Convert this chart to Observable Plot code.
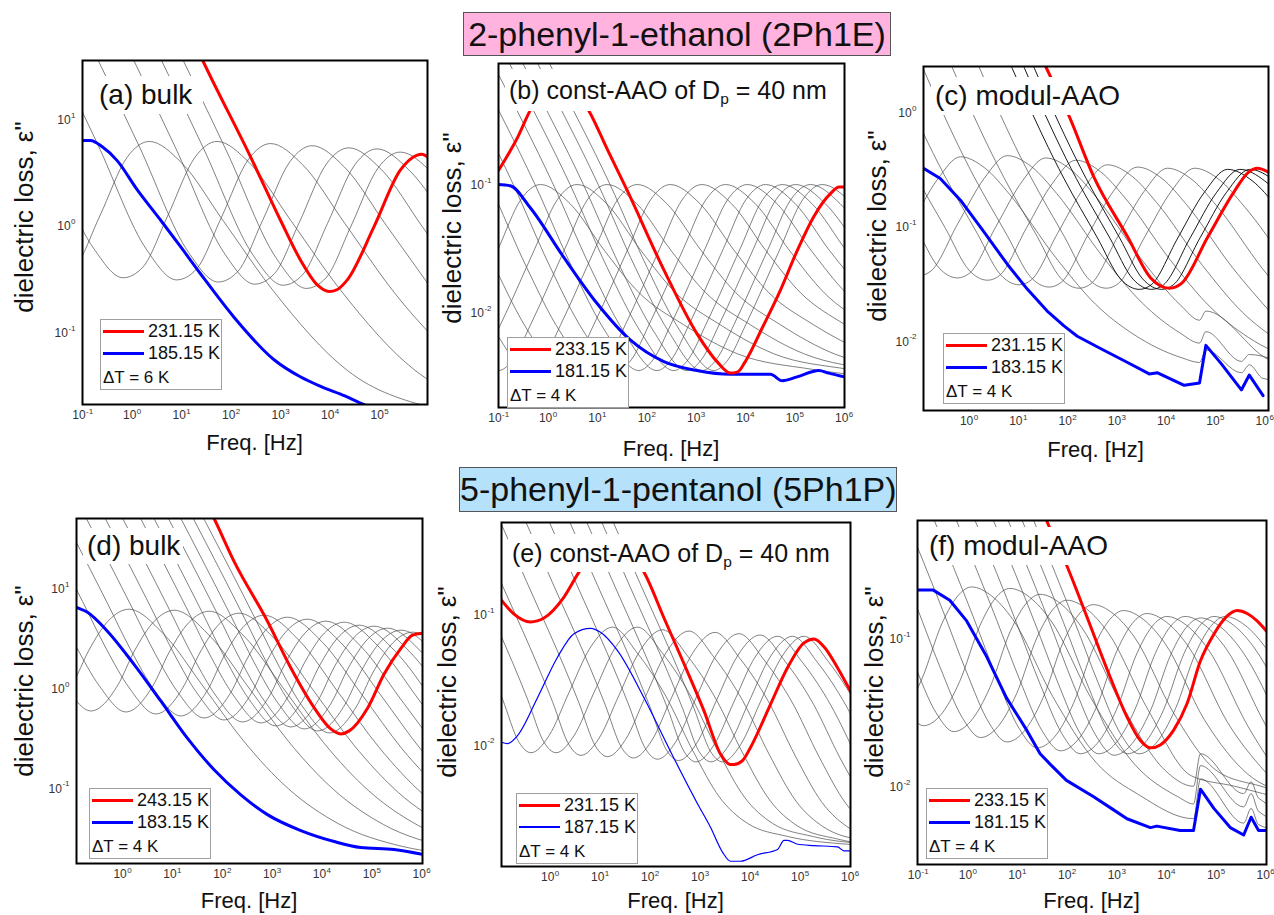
<!DOCTYPE html>
<html><head><meta charset="utf-8">
<script src="https://cdn.jsdelivr.net/npm/d3@7"></script>
<script src="https://cdn.jsdelivr.net/npm/@observablehq/plot@0.6"></script>
<style>
body{margin:0;background:#fff;font-family:"Liberation Sans",Arial,sans-serif;}
#wrap{position:relative;width:1274px;height:915px;overflow:hidden;background:#fff;}
.hdr{position:absolute;border:1px solid #555;font-size:34px;text-align:center;color:#111;box-sizing:border-box;white-space:nowrap;}
.ttl{position:absolute;background:#fff;white-space:nowrap;color:#111;box-sizing:border-box;}
.ttl sub{font-size:0.62em;vertical-align:-0.35em;line-height:0;}
.ylab{position:absolute;font-size:26px;white-space:nowrap;transform:translate(-50%,-50%) rotate(-90deg);line-height:1;color:#111;}
.xlab{position:absolute;font-size:22px;white-space:nowrap;transform:translate(-50%,-50%);line-height:1;color:#111;}
.leg{position:absolute;width:122px;height:71px;border:1px solid #a0a0a0;background:#fff;box-sizing:border-box;}
.leg .ln{position:absolute;left:2px;width:41px;}
.leg .tx{position:absolute;left:47px;font-size:18px;line-height:20px;white-space:nowrap;color:#111;}
.leg .dt{position:absolute;left:2px;font-size:17px;line-height:20px;white-space:nowrap;color:#111;}
</style></head>
<body><div id="wrap"></div>
<script>
// All curve values are [log10(f / Hz), log10(eps'')].

// ---------- (a) 2Ph1E bulk ----------
const redA = [[1.2,1.78],[1.43,1.55],[2.39,0.65],[3.0,0.05],[3.40,-0.32],[3.75,-0.56],[3.98,-0.62],[4.15,-0.60],[4.35,-0.51],[4.89,-0.01],[5.42,0.52],[5.75,0.66],[5.86,0.67],[5.98,0.64]];
const blueA = [[-1.0,0.80],[-0.84,0.80],[-0.6,0.74],[-0.30,0.61],[0.1,0.34],[0.58,0.05],[1.0,-0.21],[1.38,-0.45],[2.06,-0.86],[2.87,-1.26],[3.4,-1.42],[3.81,-1.51],[4.3,-1.60],[4.68,-1.68],[5.0,-1.73]];
const grayA = [
 [[-2.15,-0.21],[-1.55,-0.49],[-1.15,-0.39],[-0.65,0.09],[-0.10,0.64],[0.35,0.79],[1.00,0.59],[1.85,0.04],[2.85,-0.61],[4.35,-1.36],[6.05,-1.71]],
 [[-1.78,0.79],[-0.78,-0.21],[-0.18,-0.49],[0.22,-0.39],[0.72,0.09],[1.27,0.64],[1.72,0.79],[2.37,0.59],[3.22,0.04],[4.22,-0.61],[5.72,-1.36],[7.42,-1.71]],
 [[-2.2,2.22],[-0.7,0.77],[0.3,-0.23],[0.9,-0.51],[1.3,-0.41],[1.8,0.07],[2.35,0.62],[2.8,0.77],[3.45,0.57],[4.3,0.02],[5.3,-0.63],[6.8,-1.38]],
 [[-1.36,2.20],[0.14,0.75],[1.14,-0.25],[1.74,-0.53],[2.14,-0.43],[2.64,0.05],[3.19,0.60],[3.64,0.75],[4.29,0.55],[5.14,0.00],[6.14,-0.65]],
 [[-0.62,2.18],[0.88,0.73],[1.88,-0.27],[2.48,-0.55],[2.88,-0.45],[3.38,0.03],[3.93,0.58],[4.38,0.73],[5.03,0.53],[5.88,-0.02],[6.88,-0.67]],
 [[-0.05,2.17],[1.45,0.72],[2.45,-0.28],[3.05,-0.56],[3.45,-0.46],[3.95,0.02],[4.50,0.57],[4.95,0.72],[5.60,0.52],[6.45,-0.03]],
 [[0.42,2.14],[1.92,0.69],[2.92,-0.31],[3.52,-0.59],[3.92,-0.49],[4.42,-0.01],[4.97,0.54],[5.42,0.69],[6.07,0.49]]
];
const xTicksA = [-1,0,1,2,3,4,5];
const yTicksA = [1,0,-1];
const legA = ["231.15 K","185.15 K","\u0394T = 6 K"];

// ---------- (b) 2Ph1E const-AAO ----------
const redB = [[-1.0,-0.89],[-0.6,-0.62],[-0.36,-0.42],[-0.1,-0.27],[0.25,-0.2],[0.55,-0.26],[0.83,-0.42],[1.2,-0.72],[1.60,-1.04],[2.35,-1.67],[3.02,-2.17],[3.45,-2.40],[3.70,-2.48],[3.85,-2.47],[4.0,-2.39],[4.35,-2.12],[4.71,-1.83],[5.05,-1.52],[5.39,-1.25],[5.73,-1.07],[5.90,-1.02],[6.01,-1.02]];
const blueB = [[-1.0,-1.0],[-0.76,-1.01],[-0.36,-1.18],[0.32,-1.57],[0.99,-1.93],[1.67,-2.22],[2.35,-2.39],[3.02,-2.46],[3.70,-2.49],[4.51,-2.49],[4.75,-2.54],[5.05,-2.51],[5.49,-2.46],[5.69,-2.48],[6.01,-2.51]];
const grayB = [
 [[-1.70,-2.10],[-1.0,-1.50],[-0.55,-1.12],[-0.15,-1.0],[0.45,-1.15],[1.15,-1.52],[1.85,-1.85],[2.75,-2.10],[3.85,-2.33],[5.35,-2.45],[6.85,-2.52]],
 [[-1.61,-2.46],[-1.31,-2.37],[-0.96,-2.10],[-0.26,-1.50],[0.19,-1.12],[0.59,-1.0],[1.19,-1.15],[1.89,-1.52],[2.59,-1.85],[3.49,-2.10],[4.59,-2.33],[6.09,-2.45],[7.59,-2.52]],
 [[-1.68,-2.15],[-1.0,-2.46],[-0.70,-2.37],[-0.35,-2.10],[0.35,-1.50],[0.80,-1.12],[1.20,-1.0],[1.80,-1.15],[2.50,-1.52],[3.20,-1.85],[4.10,-2.10],[5.20,-2.33],[6.70,-2.45]],
 [[-1.74,-1.65],[-1.07,-2.15],[-0.39,-2.46],[-0.09,-2.37],[0.26,-2.10],[0.96,-1.50],[1.41,-1.12],[1.81,-1.0],[2.41,-1.15],[3.11,-1.52],[3.81,-1.85],[4.71,-2.10],[5.81,-2.33],[7.31,-2.45]],
 [[-1.82,-1.0],[-1.07,-1.65],[-0.40,-2.15],[0.28,-2.46],[0.58,-2.37],[0.93,-2.10],[1.63,-1.50],[2.08,-1.12],[2.48,-1.0],[3.08,-1.15],[3.78,-1.52],[4.48,-1.85],[5.38,-2.10],[6.48,-2.33]],
 [[-2.38,-0.07],[-1.18,-1.0],[-0.43,-1.65],[0.24,-2.15],[0.92,-2.46],[1.22,-2.37],[1.57,-2.10],[2.27,-1.50],[2.72,-1.12],[3.12,-1.0],[3.72,-1.15],[4.42,-1.52],[5.12,-1.85],[6.02,-2.10],[7.12,-2.33]],
 [[-1.90,-0.07],[-0.70,-1.0],[0.05,-1.65],[0.72,-2.15],[1.40,-2.46],[1.70,-2.37],[2.05,-2.10],[2.75,-1.50],[3.20,-1.12],[3.60,-1.0],[4.20,-1.15],[4.90,-1.52],[5.60,-1.85],[6.50,-2.10]],
 [[-1.46,-0.07],[-0.26,-1.0],[0.49,-1.65],[1.16,-2.15],[1.84,-2.46],[2.14,-2.37],[2.49,-2.10],[3.19,-1.50],[3.64,-1.12],[4.04,-1.0],[4.64,-1.15],[5.34,-1.52],[6.04,-1.85],[6.94,-2.10]],
 [[-1.09,-0.07],[0.11,-1.0],[0.86,-1.65],[1.53,-2.15],[2.21,-2.46],[2.51,-2.37],[2.86,-2.10],[3.56,-1.50],[4.01,-1.12],[4.41,-1.0],[5.01,-1.15],[5.71,-1.52],[6.41,-1.85]],
 [[-1.75,0.7],[-0.75,-0.07],[0.45,-1.0],[1.20,-1.65],[1.87,-2.15],[2.55,-2.46],[2.85,-2.37],[3.20,-2.10],[3.90,-1.50],[4.35,-1.12],[4.75,-1.0],[5.35,-1.15],[6.05,-1.52],[6.75,-1.85]],
 [[-1.48,0.7],[-0.48,-0.07],[0.72,-1.0],[1.47,-1.65],[2.14,-2.15],[2.82,-2.46],[3.12,-2.37],[3.47,-2.10],[4.17,-1.50],[4.62,-1.12],[5.02,-1.0],[5.62,-1.15],[6.32,-1.52]],
 [[-1.18,0.7],[-0.18,-0.07],[1.02,-1.0],[1.77,-1.65],[2.44,-2.15],[3.12,-2.46],[3.42,-2.37],[3.77,-2.10],[4.47,-1.50],[4.92,-1.12],[5.32,-1.0],[5.92,-1.15],[6.62,-1.52]],
 [[-0.94,0.7],[0.06,-0.07],[1.26,-1.0],[2.01,-1.65],[2.68,-2.15],[3.36,-2.46],[3.66,-2.37],[4.01,-2.10],[4.71,-1.50],[5.16,-1.12],[5.56,-1.0],[6.16,-1.15],[6.86,-1.52]]
];
const xTicksB = [-1,0,1,2,3,4,5,6];
const yTicksB = [-1,-2];
const legB = ["233.15 K","181.15 K","\u0394T = 4 K"];

// ---------- (c) 2Ph1E modul-AAO ----------
const redC = [[1.40,0.55],[1.56,0.40],[2.03,-0.03],[2.54,-0.57],[3.22,-1.09],[3.69,-1.45],[4.07,-1.54],[4.31,-1.50],[4.85,-1.09],[5.39,-0.69],[5.66,-0.53],[5.86,-0.49],[6.1,-0.53]];
const blueC = [[-1.0,-0.47],[-0.92,-0.49],[-0.58,-0.58],[-0.17,-0.77],[0.31,-1.05],[0.78,-1.33],[1.19,-1.55],[1.59,-1.74],[1.93,-1.87],[2.20,-1.96],[2.68,-2.07],[3.22,-2.19],[3.66,-2.29],[3.83,-2.28],[4.37,-2.39],[4.68,-2.37],[4.81,-2.04],[5.12,-2.20],[5.53,-2.43],[5.69,-2.30],[5.97,-2.48]];
const grayC = [
 [[-1.72,-1.40],[-1.18,-0.99],[-0.64,-0.59],[-0.17,-0.39],[0.33,-0.49],[0.83,-0.72],[1.76,-1.27],[2.57,-1.68],[3.33,-1.94],[4.33,-2.15],[4.68,-2.19],[4.81,-2.08],[5.53,-2.28],[5.69,-2.21],[5.97,-2.33],[7.33,-2.39]],
 [[-1.39,-1.34],[-1.01,-1.43],[-0.77,-1.39],[-0.23,-0.98],[0.31,-0.58],[0.78,-0.38],[1.28,-0.48],[1.78,-0.71],[2.71,-1.26],[3.52,-1.67],[4.28,-1.93],[4.68,-2.02],[4.81,-1.92],[5.53,-2.18],[5.69,-2.12],[6.78,-2.30]],
 [[-1.76,-0.48],[-1.08,-1.00],[-0.61,-1.36],[-0.23,-1.45],[0.01,-1.41],[0.55,-1.00],[1.09,-0.60],[1.56,-0.40],[2.06,-0.50],[2.56,-0.73],[3.49,-1.28],[4.30,-1.69],[4.68,-1.82],[4.81,-1.74],[6.06,-2.16],[7.56,-2.32]],
 [[-2.83,1.10],[-1.15,-0.50],[-0.47,-1.02],[0.00,-1.38],[0.38,-1.47],[0.62,-1.43],[1.16,-1.02],[1.70,-0.62],[2.17,-0.42],[2.67,-0.52],[3.17,-0.75],[4.10,-1.30],[4.91,-1.71],[5.67,-1.97],[6.67,-2.18]],
 [[-2.19,1.06],[-0.51,-0.54],[0.17,-1.06],[0.64,-1.42],[1.02,-1.51],[1.26,-1.47],[1.80,-1.06],[2.34,-0.66],[2.81,-0.46],[3.31,-0.56],[3.81,-0.79],[4.74,-1.34],[5.55,-1.75],[6.31,-2.01]],
 [[-1.58,1.04],[0.10,-0.56],[0.78,-1.08],[1.25,-1.44],[1.63,-1.53],[1.87,-1.49],[2.41,-1.08],[2.95,-0.68],[3.42,-0.48],[3.92,-0.58],[4.42,-0.81],[5.35,-1.36],[6.16,-1.77]],
 [[-0.97,1.03],[0.71,-0.57],[1.39,-1.09],[1.86,-1.45],[2.24,-1.54],[2.48,-1.50],[3.02,-1.09],[3.56,-0.69],[4.03,-0.49],[4.53,-0.59],[5.03,-0.82],[5.96,-1.37],[6.77,-1.78]],
 [[-0.42,1.03],[1.26,-0.57],[1.94,-1.09],[2.41,-1.45],[2.79,-1.54],[3.03,-1.50],[3.57,-1.09],[4.11,-0.69],[4.58,-0.49],[5.08,-0.59],[5.58,-0.82],[6.51,-1.37]]
];
const darkC = [
 [[0.25,1.02],[1.93,-0.58],[2.61,-1.10],[3.08,-1.46],[3.46,-1.55],[3.70,-1.51],[4.24,-1.10],[4.78,-0.70],[5.25,-0.50],[5.75,-0.60],[6.25,-0.83]],
 [[0.50,1.02],[2.18,-0.58],[2.86,-1.10],[3.33,-1.46],[3.71,-1.55],[3.95,-1.51],[4.49,-1.10],[5.03,-0.70],[5.50,-0.50],[6.00,-0.60],[6.50,-0.83]],
 [[0.70,1.02],[2.38,-0.58],[3.06,-1.10],[3.53,-1.46],[3.91,-1.55],[4.15,-1.51],[4.69,-1.10],[5.23,-0.70],[5.70,-0.50],[6.20,-0.60],[6.70,-0.83]]
];
const xTicksC = [0,1,2,3,4,5,6];
const yTicksC = [0,-1,-2];
const legC = ["231.15 K","183.15 K","\u0394T = 4 K"];

// ---------- (d) 5Ph1P bulk ----------
const redD = [[1.7,1.84],[1.84,1.70],[2.24,1.27],[2.91,0.67],[3.38,0.20],[3.85,-0.20],[4.18,-0.41],[4.38,-0.46],[4.55,-0.43],[4.92,-0.20],[5.25,0.14],[5.59,0.40],[5.82,0.53],[6.03,0.55]];
const blueD = [[-1.0,0.83],[-0.92,0.81],[-0.70,0.76],[-0.30,0.57],[0.23,0.24],[0.77,-0.13],[1.30,-0.50],[1.84,-0.82],[2.37,-1.07],[2.91,-1.27],[3.58,-1.43],[4.25,-1.54],[4.78,-1.60],[5.45,-1.62],[6.03,-1.67]];
const grayD = [
 [[-1.54,-0.22],[-1.00,0.04],[-0.67,0.38],[-0.27,0.68],[0.13,0.79],[0.83,0.54],[1.63,0.01],[2.43,-0.53],[3.33,-1.01],[4.33,-1.36],[5.63,-1.59],[7.13,-1.68]],
 [[-2.10,0.90],[-1.63,0.43],[-1.16,0.03],[-0.63,-0.23],[-0.09,0.03],[0.24,0.37],[0.64,0.67],[1.04,0.78],[1.74,0.53],[2.54,0.00],[3.34,-0.54],[4.24,-1.02],[5.24,-1.37],[6.54,-1.60]],
 [[-3.46,2.87],[-1.40,0.89],[-0.93,0.42],[-0.46,0.02],[0.07,-0.24],[0.61,0.02],[0.94,0.36],[1.34,0.66],[1.74,0.77],[2.44,0.52],[3.24,-0.01],[4.04,-0.55],[4.94,-1.03],[5.94,-1.38],[7.24,-1.61]],
 [[-2.86,2.85],[-0.80,0.87],[-0.33,0.40],[0.14,0.00],[0.67,-0.26],[1.21,0.00],[1.54,0.34],[1.94,0.64],[2.34,0.75],[3.04,0.50],[3.84,-0.03],[4.64,-0.57],[5.54,-1.05],[6.54,-1.40]],
 [[-2.36,2.83],[-0.30,0.85],[0.17,0.38],[0.64,-0.02],[1.17,-0.28],[1.71,-0.02],[2.04,0.32],[2.44,0.62],[2.84,0.73],[3.54,0.48],[4.34,-0.05],[5.14,-0.59],[6.04,-1.07],[7.04,-1.42]],
 [[-1.89,2.81],[0.17,0.83],[0.64,0.36],[1.11,-0.04],[1.64,-0.30],[2.18,-0.04],[2.51,0.30],[2.91,0.60],[3.31,0.71],[4.01,0.46],[4.81,-0.07],[5.61,-0.61],[6.51,-1.09]],
 [[-1.49,2.79],[0.57,0.81],[1.04,0.34],[1.51,-0.06],[2.04,-0.32],[2.58,-0.06],[2.91,0.28],[3.31,0.58],[3.71,0.69],[4.41,0.44],[5.21,-0.09],[6.01,-0.63],[6.91,-1.11]],
 [[-1.12,2.77],[0.94,0.79],[1.41,0.32],[1.88,-0.08],[2.41,-0.34],[2.95,-0.08],[3.28,0.26],[3.68,0.56],[4.08,0.67],[4.78,0.42],[5.58,-0.11],[6.38,-0.65]],
 [[-0.75,2.76],[1.31,0.78],[1.78,0.31],[2.25,-0.09],[2.78,-0.35],[3.32,-0.09],[3.65,0.25],[4.05,0.55],[4.45,0.66],[5.15,0.41],[5.95,-0.12],[6.75,-0.66]],
 [[-0.45,2.73],[1.61,0.75],[2.08,0.28],[2.55,-0.12],[3.08,-0.38],[3.62,-0.12],[3.95,0.22],[4.35,0.52],[4.75,0.63],[5.45,0.38],[6.25,-0.15]],
 [[-0.15,2.72],[1.91,0.74],[2.38,0.27],[2.85,-0.13],[3.38,-0.39],[3.92,-0.13],[4.25,0.21],[4.65,0.51],[5.05,0.62],[5.75,0.37],[6.55,-0.16]],
 [[0.12,2.70],[2.18,0.72],[2.65,0.25],[3.12,-0.15],[3.65,-0.41],[4.19,-0.15],[4.52,0.19],[4.92,0.49],[5.32,0.60],[6.02,0.35],[6.82,-0.18]],
 [[0.39,2.68],[2.45,0.70],[2.92,0.23],[3.39,-0.17],[3.92,-0.43],[4.46,-0.17],[4.79,0.17],[5.19,0.47],[5.59,0.58],[6.29,0.33]],
 [[0.62,2.66],[2.68,0.68],[3.15,0.21],[3.62,-0.19],[4.15,-0.45],[4.69,-0.19],[5.02,0.15],[5.42,0.45],[5.82,0.56],[6.52,0.31]]
];
const xTicksD = [0,1,2,3,4,5,6];
const yTicksD = [1,0,-1];
const legD = ["243.15 K","183.15 K","\u0394T = 4 K"];

// ---------- (e) 5Ph1P const-AAO ----------
const redE = [[-1.0,-0.88],[-0.72,-1.0],[-0.39,-1.06],[-0.12,-1.03],[0.28,-0.87],[0.58,-0.68],[0.9,-0.52],[1.25,-0.46],[1.6,-0.53],[1.88,-0.68],[2.28,-1.03],[2.68,-1.38],[3.08,-1.74],[3.41,-2.07],[3.61,-2.15],[3.68,-2.15],[3.85,-2.12],[4.01,-2.02],[4.41,-1.69],[4.75,-1.41],[5.08,-1.22],[5.28,-1.19],[5.48,-1.25],[5.75,-1.41],[6.01,-1.59]];
const blueE = [[-0.97,-1.98],[-0.85,-1.99],[-0.65,-1.93],[-0.25,-1.64],[0.15,-1.33],[0.48,-1.15],[0.81,-1.11],[1.01,-1.14],[1.35,-1.28],[1.88,-1.64],[2.41,-2.05],[2.95,-2.45],[3.21,-2.63],[3.45,-2.82],[3.61,-2.89],[3.81,-2.89],[4.15,-2.84],[4.55,-2.80],[4.68,-2.73],[4.75,-2.73],[4.95,-2.76],[5.28,-2.77],[5.75,-2.78],[5.88,-2.81],[6.01,-2.81]];
const grayE = [
 [[-2.15,-0.59],[-0.95,-1.65],[-0.62,-1.98],[-0.38,-2.06],[-0.02,-1.93],[0.38,-1.60],[0.80,-1.26],[1.25,-1.10],[1.75,-1.30],[2.32,-1.63],[2.85,-2.04],[3.39,-2.40],[3.95,-2.60],[4.75,-2.70],[5.95,-2.76],[7.0,-2.78]],
 [[-2.75,0.37],[-1.65,-0.59],[-0.45,-1.65],[-0.12,-1.98],[0.12,-2.06],[0.48,-1.93],[0.88,-1.60],[1.30,-1.26],[1.75,-1.10],[2.25,-1.30],[2.82,-1.63],[3.35,-2.04],[3.89,-2.40],[4.45,-2.60],[5.25,-2.70],[6.45,-2.76]],
 [[-2.25,0.35],[-1.15,-0.61],[0.05,-1.67],[0.38,-2.00],[0.62,-2.08],[0.98,-1.95],[1.38,-1.62],[1.80,-1.28],[2.25,-1.12],[2.75,-1.32],[3.32,-1.65],[3.85,-2.06],[4.39,-2.42],[4.95,-2.62],[5.75,-2.72],[6.95,-2.78]],
 [[-1.72,0.34],[-0.62,-0.62],[0.58,-1.68],[0.91,-2.01],[1.15,-2.09],[1.51,-1.96],[1.91,-1.63],[2.33,-1.29],[2.78,-1.13],[3.28,-1.33],[3.85,-1.66],[4.38,-2.07],[4.92,-2.43],[5.48,-2.63],[6.28,-2.73]],
 [[-1.20,0.33],[-0.10,-0.63],[1.10,-1.69],[1.43,-2.02],[1.67,-2.10],[2.03,-1.97],[2.43,-1.64],[2.85,-1.30],[3.30,-1.14],[3.80,-1.34],[4.37,-1.67],[4.90,-2.08],[5.44,-2.44],[6.00,-2.64],[6.80,-2.74]],
 [[-0.72,0.32],[0.38,-0.64],[1.58,-1.70],[1.91,-2.03],[2.15,-2.11],[2.51,-1.98],[2.91,-1.65],[3.33,-1.31],[3.78,-1.15],[4.28,-1.35],[4.85,-1.68],[5.38,-2.09],[5.92,-2.45],[6.48,-2.65]],
 [[-0.30,0.31],[0.80,-0.65],[2.00,-1.71],[2.33,-2.04],[2.57,-2.12],[2.93,-1.99],[3.33,-1.66],[3.75,-1.32],[4.20,-1.16],[4.70,-1.36],[5.27,-1.69],[5.80,-2.10],[6.34,-2.46]],
 [[0.05,0.30],[1.15,-0.66],[2.35,-1.72],[2.68,-2.05],[2.92,-2.13],[3.28,-2.00],[3.68,-1.67],[4.10,-1.33],[4.55,-1.17],[5.05,-1.37],[5.62,-1.70],[6.15,-2.11]],
 [[0.35,0.30],[1.45,-0.66],[2.65,-1.72],[2.98,-2.05],[3.22,-2.13],[3.58,-2.00],[3.98,-1.67],[4.40,-1.33],[4.85,-1.17],[5.35,-1.37],[5.92,-1.70],[6.45,-2.11]],
 [[0.58,0.30],[1.68,-0.66],[2.88,-1.72],[3.21,-2.05],[3.45,-2.13],[3.81,-2.00],[4.21,-1.67],[4.63,-1.33],[5.08,-1.17],[5.58,-1.37],[6.15,-1.70]]
];
const xTicksE = [0,1,2,3,4,5,6];
const yTicksE = [-1,-2];
const legE = ["231.15 K","187.15 K","\u0394T = 4 K"];

// ---------- (f) 5Ph1P modul-AAO ----------
const redF = [[1.45,-0.08],[1.59,-0.20],[1.99,-0.50],[2.40,-0.85],[2.87,-1.26],[3.21,-1.53],[3.48,-1.69],[3.69,-1.74],[3.88,-1.72],[4.15,-1.62],[4.42,-1.44],[4.69,-1.15],[4.96,-0.97],[5.22,-0.85],[5.43,-0.81],[5.63,-0.83],[5.83,-0.88],[6.02,-0.95]];
const blueF = [[-1.02,-0.67],[-0.70,-0.67],[-0.36,-0.74],[-0.02,-0.88],[0.38,-1.12],[0.78,-1.40],[1.19,-1.62],[1.46,-1.78],[1.66,-1.85],[1.99,-1.96],[2.53,-2.07],[2.94,-2.16],[3.21,-2.22],[3.68,-2.28],[3.81,-2.27],[4.28,-2.30],[4.55,-2.30],[4.69,-2.02],[4.96,-2.15],[5.29,-2.28],[5.56,-2.33],[5.71,-2.21],[5.86,-2.30],[6.02,-2.30]];
const grayF = [
 [[-1.66,-1.58],[-1.32,-1.51],[-0.93,-1.28],[-0.52,-0.90],[-0.17,-0.70],[0.08,-0.65],[0.48,-0.71],[0.91,-0.87],[1.71,-1.39],[2.59,-1.84],[3.46,-2.06],[4.55,-2.22],[4.69,-1.95],[5.56,-2.25],[5.71,-2.15],[5.86,-2.26],[6.58,-2.32]],
 [[-1.71,-1.11],[-1.25,-1.46],[-0.89,-1.59],[-0.55,-1.52],[-0.16,-1.29],[0.25,-0.91],[0.60,-0.71],[0.85,-0.66],[1.25,-0.72],[1.68,-0.88],[2.48,-1.40],[3.36,-1.85],[4.23,-2.07],[4.55,-2.12],[4.69,-1.86],[5.56,-2.14],[5.71,-2.05],[5.86,-2.17],[7.35,-2.36]],
 [[-1.57,-0.74],[-1.10,-1.15],[-0.64,-1.50],[-0.28,-1.63],[0.06,-1.56],[0.45,-1.33],[0.86,-0.95],[1.21,-0.75],[1.46,-0.70],[1.86,-0.76],[2.29,-0.92],[3.09,-1.44],[3.97,-1.89],[4.55,-2.0],[4.69,-1.78],[5.56,-2.05],[5.71,-1.97],[5.86,-2.08],[7.96,-2.35]],
 [[-2.6,0.50],[-1.03,-0.78],[-0.56,-1.19],[-0.10,-1.54],[0.26,-1.67],[0.60,-1.60],[0.99,-1.37],[1.40,-0.99],[1.75,-0.79],[2.0,-0.74],[2.4,-0.80],[2.83,-0.96],[3.63,-1.48],[4.51,-1.93],[5.38,-2.0],[6.5,-2.1]],
 [[-2.07,0.47],[-0.50,-0.81],[-0.03,-1.22],[0.43,-1.57],[0.79,-1.70],[1.13,-1.63],[1.52,-1.40],[1.93,-1.02],[2.28,-0.82],[2.53,-0.77],[2.93,-0.83],[3.36,-0.99],[4.16,-1.51],[5.04,-1.90],[5.91,-2.0],[7.03,-2.1]],
 [[-1.46,0.43],[0.11,-0.85],[0.58,-1.26],[1.04,-1.61],[1.40,-1.74],[1.74,-1.67],[2.13,-1.44],[2.54,-1.06],[2.89,-0.86],[3.14,-0.81],[3.54,-0.87],[3.97,-1.03],[4.77,-1.55],[5.65,-1.92],[6.52,-2.05]],
 [[-0.99,0.41],[0.58,-0.87],[1.05,-1.28],[1.51,-1.63],[1.87,-1.76],[2.21,-1.69],[2.60,-1.46],[3.01,-1.08],[3.36,-0.88],[3.61,-0.83],[4.01,-0.89],[4.44,-1.05],[5.24,-1.57],[6.12,-1.95]],
 [[-0.59,0.39],[0.98,-0.89],[1.45,-1.30],[1.91,-1.65],[2.27,-1.78],[2.61,-1.71],[3.00,-1.48],[3.41,-1.10],[3.76,-0.90],[4.01,-0.85],[4.41,-0.91],[4.84,-1.07],[5.64,-1.59],[6.52,-2.04]],
 [[-0.22,0.39],[1.35,-0.89],[1.82,-1.30],[2.28,-1.65],[2.64,-1.78],[2.98,-1.71],[3.37,-1.48],[3.78,-1.10],[4.13,-0.90],[4.38,-0.85],[4.78,-0.91],[5.21,-1.07],[6.01,-1.59],[6.89,-2.04]],
 [[0.09,0.38],[1.66,-0.90],[2.13,-1.31],[2.59,-1.66],[2.95,-1.79],[3.29,-1.72],[3.68,-1.49],[4.09,-1.11],[4.44,-0.91],[4.69,-0.86],[5.09,-0.92],[5.52,-1.08],[6.32,-1.60]],
 [[0.36,0.39],[1.93,-0.89],[2.40,-1.30],[2.86,-1.65],[3.22,-1.78],[3.56,-1.71],[3.95,-1.48],[4.36,-1.10],[4.71,-0.90],[4.96,-0.85],[5.36,-0.91],[5.79,-1.07],[6.59,-1.59]],
 [[0.59,0.39],[2.16,-0.89],[2.63,-1.30],[3.09,-1.65],[3.45,-1.78],[3.79,-1.71],[4.18,-1.48],[4.59,-1.10],[4.94,-0.90],[5.19,-0.85],[5.59,-0.91],[6.02,-1.07],[6.82,-1.59]]
];
const xTicksF = [-1,0,1,2,3,4,5,6];
const yTicksF = [-1,-2];
const legF = ["233.15 K","181.15 K","\u0394T = 4 K"];

// ---------- texts ----------
const headers = [
  {text:"2-phenyl-1-ethanol (2Ph1E)", box:[463,12,428,44], fill:"#ffb3de"},
  {text:"5-phenyl-1-pentanol (5Ph1P)", box:[459,467,438,45], fill:"#b5e2fa"}
];
const yLabel = "dielectric loss, \u03b5\"";
const xLabel = "Freq. [Hz]";

const panels = [
 {frame:[82,60,427,404], xdom:[-1,5.97], ydom:[-1.68,1.55], gray:grayA, dark:[], red:redA, blue:blueA, blueW:3, blueCurve:"monotone-x", xt:xTicksA, yt:yTicksA,
  title:["(a) bulk"], tbox:[95,76,108,38,28], leg:legA, legPos:[100,319], ylab:[24,217], xlabDy:39},
 {frame:[498,63,844,407], xdom:[-1,6.01], ydom:[-2.75,-0.05], gray:grayB, dark:[], red:redB, blue:blueB, blueW:3, blueCurve:"monotone-x", xt:xTicksB, yt:yTicksB,
  title:["(b) const-AAO of D","p"," = 40 nm"], tbox:[505,69,326,42,25], leg:legB, legPos:[507,337], ylab:[452,228], xlabDy:42},
 {frame:[923,66,1268,410], xdom:[-0.92,6.08], ydom:[-2.61,0.40], gray:grayC, dark:darkC, red:redC, blue:blueC, blueW:3, blueCurve:"linear", xt:xTicksC, yt:yTicksC,
  title:["(c) modul-AAO"], tbox:[931,77,190,38,28], leg:legC, legPos:[943,333], ylab:[877,226], xlabDy:40},
 {frame:[76,518,422,863], xdom:[-0.92,6.02], ydom:[-1.76,1.70], gray:grayD, dark:[], red:redD, blue:blueD, blueW:3, blueCurve:"monotone-x", xt:xTicksD, yt:yTicksD,
  title:["(d) bulk"], tbox:[83,528,100,36,28], leg:legD, legPos:[89,788], ylab:[24,681], xlabDy:38},
 {frame:[501,522,850,866], xdom:[-0.97,6.01], ydom:[-2.93,-0.30], gray:grayE, dark:[], red:redE, blue:blueE, blueW:1.2, blueCurve:"monotone-x", xt:xTicksE, yt:yTicksE,
  title:["(e) const-AAO of D","p"," = 40 nm"], tbox:[508,534,328,38,25], leg:legE, legPos:[516,793], ylab:[447,682], xlabDy:35},
 {frame:[917,520,1266,864], xdom:[-1.01,6.02], ydom:[-2.53,-0.20], gray:grayF, dark:[], red:redF, blue:blueF, blueW:3, blueCurve:"linear", xt:xTicksF, yt:yTicksF,
  title:["(f) modul-AAO"], tbox:[925,527,183,38,28], leg:legF, legPos:[926,788], ylab:[874,682], xlabDy:37}
];

// ---------- drawing ----------
const wrap = document.getElementById("wrap");
const P = v => 10 ** v;
const toRows = curves => curves.flatMap((c, i) => c.map(([x, y]) => ({x: P(x), y: P(y), k: i})));
const toPts = c => c.map(([x, y]) => ({x: P(x), y: P(y)}));
const FONT = '"Liberation Sans", Arial, Helvetica, sans-serif';
const expW = e => (e < 0 ? 2.7 : 0) + 4.45;
const TICKC = "#333";

function el(tag, cls, styles, text) {
  const d = document.createElement(tag);
  if (cls) d.className = cls;
  Object.assign(d.style, styles || {});
  if (text != null) d.textContent = text;
  return d;
}

for (const p of panels) {
  const [L, T, R, B] = p.frame;
  const mL = 62, mT = 20, mR = 6, mB = 44;
  const marks = [
    Plot.line(toRows(p.gray), {x: "x", y: "y", z: "k", stroke: "#4a4a4a", strokeWidth: 0.7, curve: "monotone-x", clip: true})
  ];
  if (p.dark.length) marks.push(Plot.line(toRows(p.dark), {x: "x", y: "y", z: "k", stroke: "#000", strokeWidth: 0.9, curve: "monotone-x", clip: true}));
  marks.push(Plot.line(toPts(p.blue), {x: "x", y: "y", stroke: "#0000ff", strokeWidth: p.blueW, strokeLinejoin: "round", curve: p.blueCurve, clip: true}));
  marks.push(Plot.line(toPts(p.red), {x: "x", y: "y", stroke: "#ff0000", strokeWidth: 3, strokeLinejoin: "round", curve: "monotone-x", clip: true}));
  marks.push(Plot.frame({stroke: "#000", strokeWidth: 2}));
  for (const e of p.xt) {
    const off = (13.3 - expW(e)) / 2;
    marks.push(Plot.text([P(e)], {x: d => d, frameAnchor: "bottom", text: () => "10", textAnchor: "end", dx: off, dy: 14, fontSize: 12, fill: TICKC}));
    marks.push(Plot.text([P(e)], {x: d => d, frameAnchor: "bottom", text: () => String(e), textAnchor: "start", dx: off + 0.4, dy: 9, fontSize: 8, fill: TICKC}));
  }
  for (const e of p.yt) {
    marks.push(Plot.text([P(e)], {y: d => d, frameAnchor: "left", text: () => "10", textAnchor: "end", dx: -7.4 - expW(e), dy: 1, fontSize: 12, fill: TICKC}));
    marks.push(Plot.text([P(e)], {y: d => d, frameAnchor: "left", text: () => String(e), textAnchor: "end", dx: -7, dy: -4, fontSize: 8, fill: TICKC}));
  }
  const svg = Plot.plot({
    width: R - L + mL + mR, height: B - T + mT + mB,
    marginLeft: mL, marginTop: mT, marginRight: mR, marginBottom: mB,
    x: {type: "log", domain: [P(p.xdom[0]), P(p.xdom[1])], axis: null},
    y: {type: "log", domain: [P(p.ydom[0]), P(p.ydom[1])], axis: null},
    style: {fontFamily: FONT, background: "transparent", overflow: "visible"},
    marks
  });
  svg.style.position = "absolute";
  svg.style.left = (L - mL) + "px";
  svg.style.top = (T - mT) + "px";
  wrap.appendChild(svg);
}

// overlays: headers, titles, axis labels, legends
for (const h of headers) {
  const [x, y, w, hh] = h.box;
  wrap.appendChild(el("div", "hdr", {left: x + "px", top: y + "px", width: w + "px", height: hh + "px", lineHeight: (hh - 2) + "px", background: h.fill}, h.text));
}
for (const p of panels) {
  const [L, T, R, B] = p.frame;
  const [tx, ty, tw, th, fs] = p.tbox;
  const t = el("div", "ttl", {left: tx + "px", top: ty + "px", width: tw + "px", height: th + "px", lineHeight: th + "px", fontSize: fs + "px", paddingLeft: "4px"});
  t.appendChild(document.createTextNode(p.title[0]));
  if (p.title.length > 1) {
    t.appendChild(el("sub", null, {}, p.title[1]));
    t.appendChild(document.createTextNode(p.title[2]));
  }
  wrap.appendChild(t);
  wrap.appendChild(el("div", "ylab", {left: p.ylab[0] + "px", top: p.ylab[1] + "px"}, yLabel));
  wrap.appendChild(el("div", "xlab", {left: ((L + R) / 2) + "px", top: (B + p.xlabDy) + "px"}, xLabel));
  const lg = el("div", "leg", {left: p.legPos[0] + "px", top: p.legPos[1] + "px"});
  lg.appendChild(el("div", "ln", {top: "10px", height: "3px", background: "#ff0000"}));
  lg.appendChild(el("div", "tx", {top: "1px"}, p.leg[0]));
  lg.appendChild(el("div", "ln", {top: (p.blueW < 2 ? 32 : 32) + "px", height: (p.blueW < 2 ? 2 : 3) + "px", background: "#0000ff"}));
  lg.appendChild(el("div", "tx", {top: "23px"}, p.leg[1]));
  lg.appendChild(el("div", "dt", {top: "48px"}, p.leg[2]));
  wrap.appendChild(lg);
}
</script>
</body></html>
